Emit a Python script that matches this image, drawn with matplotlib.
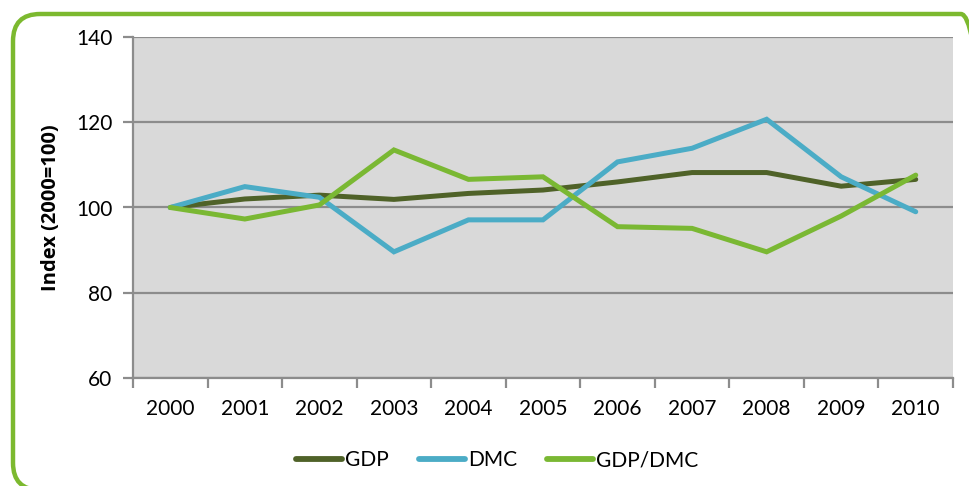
import matplotlib
matplotlib.use("Agg")
import matplotlib.pyplot as plt
from matplotlib.patches import FancyBboxPatch
import numpy

# Donnees (indice 2000 = 100)
years = ["2000", "2001", "2002", "2003", "2004", "2005",
         "2006", "2007", "2008", "2009", "2010"]
gdp     = [100, 102.0, 102.9, 101.9, 103.3, 104.1, 106.0, 108.2, 108.2, 105.0, 106.6]
dmc     = [100, 104.9, 102.4, 89.6, 97.1, 97.1, 110.7, 113.9, 120.7, 107.2, 99.0]
gdp_dmc = [100, 97.3, 100.6, 113.5, 106.6, 107.2, 95.5, 95.1, 89.6, 98.0, 107.6]

series = [("GDP", gdp, "#4f6228"),
          ("DMC", dmc, "#4bacc6"),
          ("GDP/DMC", gdp_dmc, "#7ab833")]

plt.rcParams["font.family"] = ["Lato", "DejaVu Sans"]

W, H = 970, 486
fig = plt.figure(figsize=(W/100, H/100), dpi=100)

# Cadre vert arrondi autour du graphique
frame = FancyBboxPatch((13/W, 1 - 490/H), (988 - 13)/W, (490 - 14)/H,
                       boxstyle="round,pad=0,rounding_size=0.028",
                       transform=fig.transFigure, facecolor="none",
                       edgecolor="#7cb92f", lw=3.2, zorder=0, clip_on=False,
                       mutation_aspect=W/H)
fig.patches.append(frame)

ax = fig.add_axes([133/W, 1 - 378/H, (953 - 133)/W, (378 - 37)/H])
ax.set_facecolor("#d9d9d9")

x = numpy.arange(len(years))
for name, vals, col in series:
    ax.plot(x, vals, color=col, lw=3.6, label=name, solid_capstyle="round",
            solid_joinstyle="miter", zorder=3)

ax.set_xlim(-0.5, len(years) - 0.5)
ax.set_ylim(60, 140)
ax.set_yticks([60, 80, 100, 120, 140])
ax.grid(axis="y", color="#8c8c8c", lw=1.6, zorder=1)
ax.set_axisbelow(True)

ax.set_xticks(x)
ax.set_xticklabels(years)
ax.set_xticks(numpy.arange(-0.5, len(years)), minor=True)
ax.tick_params(axis="x", which="major", length=0, pad=15, labelsize=15)
ax.tick_params(axis="x", which="minor", length=7, width=1.6, color="#8c8c8c",
               direction="out")
ax.tick_params(axis="y", length=7, width=1.6, color="#8c8c8c",
               direction="out", pad=8, labelsize=15)

for side in ["top", "right"]:
    ax.spines[side].set_visible(False)
for side in ["left", "bottom"]:
    ax.spines[side].set_color("#8c8c8c")
    ax.spines[side].set_linewidth(1.6)

ax.set_ylabel("Index (2000=100)", fontsize=14.5, fontweight="bold",
              family=["Open Sans", "DejaVu Sans"], labelpad=11)

leg = fig.legend(loc="center", bbox_to_anchor=(497/W, 1 - 460/H), ncol=3,
                 frameon=False, fontsize=15, handlelength=2.2,
                 handletextpad=0.15, columnspacing=1.45)
for line in leg.get_lines():
    line.set_linewidth(4.2)

fig.savefig("out.png", dpi=100)
